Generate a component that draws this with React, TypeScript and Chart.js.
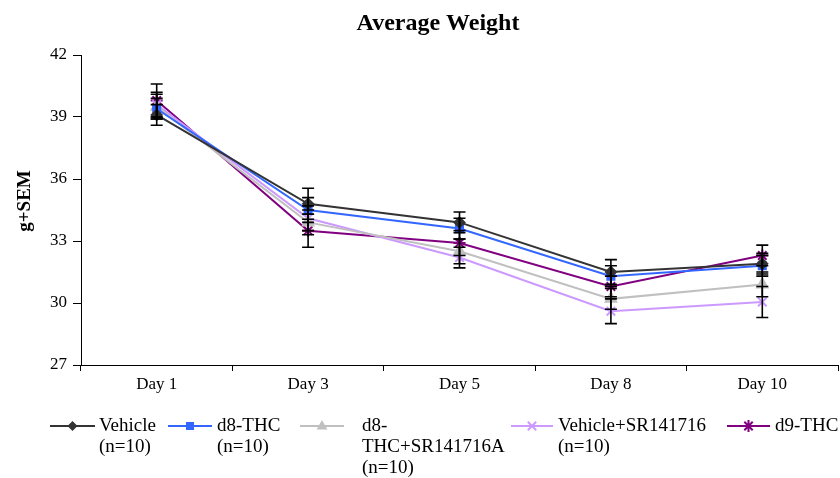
import React, { useEffect, useRef } from "react";
import { Chart, registerables } from "chart.js";
Chart.register(...registerables);

const categories = ["Day 1", "Day 3", "Day 5", "Day 8", "Day 10"];
const seriesNames = ["Vehicle", "d8-THC", "d8-THC+SR141716A", "Vehicle+SR141716", "d9-THC"];
const legendLabels = [
  ["Vehicle", "(n=10)"],
  ["d8-THC", "(n=10)"],
  ["d8-", "THC+SR141716A", "(n=10)"],
  ["Vehicle+SR141716", "(n=10)"],
  ["d9-THC"],
];
const vehicle = [39.1, 34.8, 33.9, 31.5, 31.9];
const d8thc = [39.4, 34.5, 33.6, 31.3, 31.8];
const d8thcSR = [39.5, 33.9, 32.5, 30.2, 30.9];
const vehicleSR = [39.6, 34.1, 32.2, 29.6, 30.05];
const d9thc = [39.8, 33.5, 32.9, 30.8, 32.3];
const vehicleSem = [0.5, 0.75, 0.5, 0.6, 0.5];
const d8thcSem = [0.5, 0.6, 0.5, 0.5, 0.5];
const d8thcSRSem = [0.6, 0.6, 0.6, 0.5, 0.6];
const vehicleSRSem = [0.6, 0.6, 0.5, 0.6, 0.75];
const d9thcSem = [0.8, 0.8, 0.6, 0.5, 0.5];

const yMin = 27;
const yMax = 42;
const yStep = 3;
const chartTitle = "Average Weight";
const yTitle = "g+SEM";

const colors = ["#333333", "#3366ff", "#c0c0c0", "#cc99ff", "#800080"];
const pointStyles = ["rectRot", "rect", "triangle", "crossRot", "star"];
const pointRadii = [5, 5, 6, 6, 6];
const values = [vehicle, d8thc, d8thcSR, vehicleSR, d9thc];
const sems = [vehicleSem, d8thcSem, d8thcSRSem, vehicleSRSem, d9thcSem];

const FONT = "'Liberation Serif', 'Times New Roman', serif";

const errorBarPlugin = {
  id: "errorBars",
  afterDatasetsDraw(chart: any) {
    const ctx = chart.ctx;
    const y = chart.scales.y;
    ctx.save();
    ctx.strokeStyle = "#000";
    ctx.lineWidth = 1.6;
    chart.data.datasets.forEach((ds: any, di: number) => {
      const meta = chart.getDatasetMeta(di);
      meta.data.forEach((pt: any, i: number) => {
        const v = ds.data[i];
        const e = ds.sem[i];
        const x = pt.x;
        const yt = y.getPixelForValue(v + e);
        const yb = y.getPixelForValue(v - e);
        ctx.beginPath();
        ctx.moveTo(x, yt);
        ctx.lineTo(x, yb);
        ctx.moveTo(x - 6, yt);
        ctx.lineTo(x + 6, yt);
        ctx.moveTo(x - 6, yb);
        ctx.lineTo(x + 6, yb);
        ctx.stroke();
      });
    });
    ctx.restore();
  },
};

const titlePlugin = {
  id: "customTitle",
  afterDraw(chart: any) {
    const ctx = chart.ctx;
    const area = chart.chartArea;
    ctx.save();
    ctx.fillStyle = "#000";
    ctx.font = `bold 24px ${FONT}`;
    ctx.textAlign = "center";
    ctx.textBaseline = "middle";
    ctx.fillText(chartTitle, 438, 24);
    ctx.translate(25, (area.top + area.bottom) / 2 - 9);
    ctx.rotate(-Math.PI / 2);
    ctx.font = `bold 19px ${FONT}`;
    ctx.fillText(yTitle, 0, 0);
    ctx.restore();
  },
};

const legendPos = [
  { x1: 50, x2: 95, tx: 99 },
  { x1: 168, x2: 212, tx: 217 },
  { x1: 300, x2: 344, tx: 362 },
  { x1: 511, x2: 553, tx: 558 },
  { x1: 727, x2: 770, tx: 775 },
];

function drawPoint(ctx: any, style: string, r: number, x: number, y: number, color: string) {
  ctx.save();
  ctx.fillStyle = color;
  ctx.strokeStyle = color;
  ctx.lineWidth = 2;
  ctx.beginPath();
  if (style === "rectRot") {
    ctx.moveTo(x, y - r);
    ctx.lineTo(x + r, y);
    ctx.lineTo(x, y + r);
    ctx.lineTo(x - r, y);
    ctx.closePath();
    ctx.fill();
  } else if (style === "rect") {
    ctx.rect(x - r * 0.8, y - r * 0.8, r * 1.6, r * 1.6);
    ctx.fill();
  } else if (style === "triangle") {
    ctx.moveTo(x, y - r);
    ctx.lineTo(x + r * 0.9, y + r * 0.6);
    ctx.lineTo(x - r * 0.9, y + r * 0.6);
    ctx.closePath();
    ctx.fill();
  } else if (style === "crossRot") {
    const d = r * 0.7;
    ctx.moveTo(x - d, y - d);
    ctx.lineTo(x + d, y + d);
    ctx.moveTo(x + d, y - d);
    ctx.lineTo(x - d, y + d);
    ctx.stroke();
  } else if (style === "star") {
    const d = r * 0.7;
    ctx.moveTo(x - d, y - d);
    ctx.lineTo(x + d, y + d);
    ctx.moveTo(x + d, y - d);
    ctx.lineTo(x - d, y + d);
    ctx.moveTo(x, y - r);
    ctx.lineTo(x, y + r);
    ctx.stroke();
  }
  ctx.restore();
}

const legendPlugin = {
  id: "customLegend",
  afterDraw(chart: any) {
    const ctx = chart.ctx;
    const ly = 426;
    ctx.save();
    chart.data.datasets.forEach((ds: any, di: number) => {
      const p = legendPos[di];
      ctx.strokeStyle = ds.borderColor;
      ctx.lineWidth = 2;
      ctx.beginPath();
      ctx.moveTo(p.x1, ly);
      ctx.lineTo(p.x2, ly);
      ctx.stroke();
      const mx = (p.x1 + p.x2) / 2;
      drawPoint(ctx, ds.pointStyle, ds.pointRadius, mx, ly, ds.borderColor);
      ctx.fillStyle = "#000";
      ctx.font = `19px ${FONT}`;
      ctx.textAlign = "left";
      ctx.textBaseline = "middle";
      legendLabels[di].forEach((line, li) => {
        ctx.fillText(line, p.tx, ly + li * 21);
      });
    });
    ctx.restore();
  },
};

export default function App() {
  const ref = useRef<HTMLCanvasElement>(null);
  useEffect(() => {
    if (!ref.current) return;
    const chart = new Chart(ref.current, {
      type: "line",
      data: {
        labels: categories,
        datasets: seriesNames.map((name, i) => ({
          label: name,
          data: values[i],
          sem: sems[i],
          borderColor: colors[i],
          backgroundColor: colors[i],
          pointStyle: pointStyles[i],
          pointRadius: pointRadii[i],
          pointBorderWidth: 2,
          borderWidth: 2,
          tension: 0,
        })) as any,
      },
      options: {
        animation: false,
        responsive: false,
        layout: { padding: { top: 55, right: 0, bottom: 0, left: 0 } },
        plugins: {
          legend: { display: false },
          title: { display: false },
          tooltip: { enabled: false },
        },
        scales: {
          x: {
            type: "category",
            offset: true,
            border: { color: "#000", width: 1 },
            grid: { display: true, offset: true, drawOnChartArea: false, tickLength: 6, color: "#000" },
            ticks: { color: "#000", font: { family: FONT, size: 17 }, padding: 3, maxRotation: 0 },
            afterFit(scale: any) {
              scale.height = 113;
            },
          },
          y: {
            min: yMin,
            max: yMax,
            border: { color: "#000", width: 1 },
            grid: { display: true, drawOnChartArea: false, tickLength: 8, color: "#000" },
            ticks: { stepSize: yStep, color: "#000", font: { family: FONT, size: 17 }, padding: 6 },
            afterFit(scale: any) {
              scale.width = 81;
            },
          },
        },
      },
      plugins: [errorBarPlugin, titlePlugin, legendPlugin],
    } as any);
    return () => chart.destroy();
  }, []);
  return (
    <div style={{ position: "fixed", left: 0, top: 0, width: 840, height: 478, background: "#fff", overflow: "hidden" }}>
      <canvas ref={ref} width={846} height={478} style={{ width: 846, height: 478, display: "block" }} />
    </div>
  );
}
